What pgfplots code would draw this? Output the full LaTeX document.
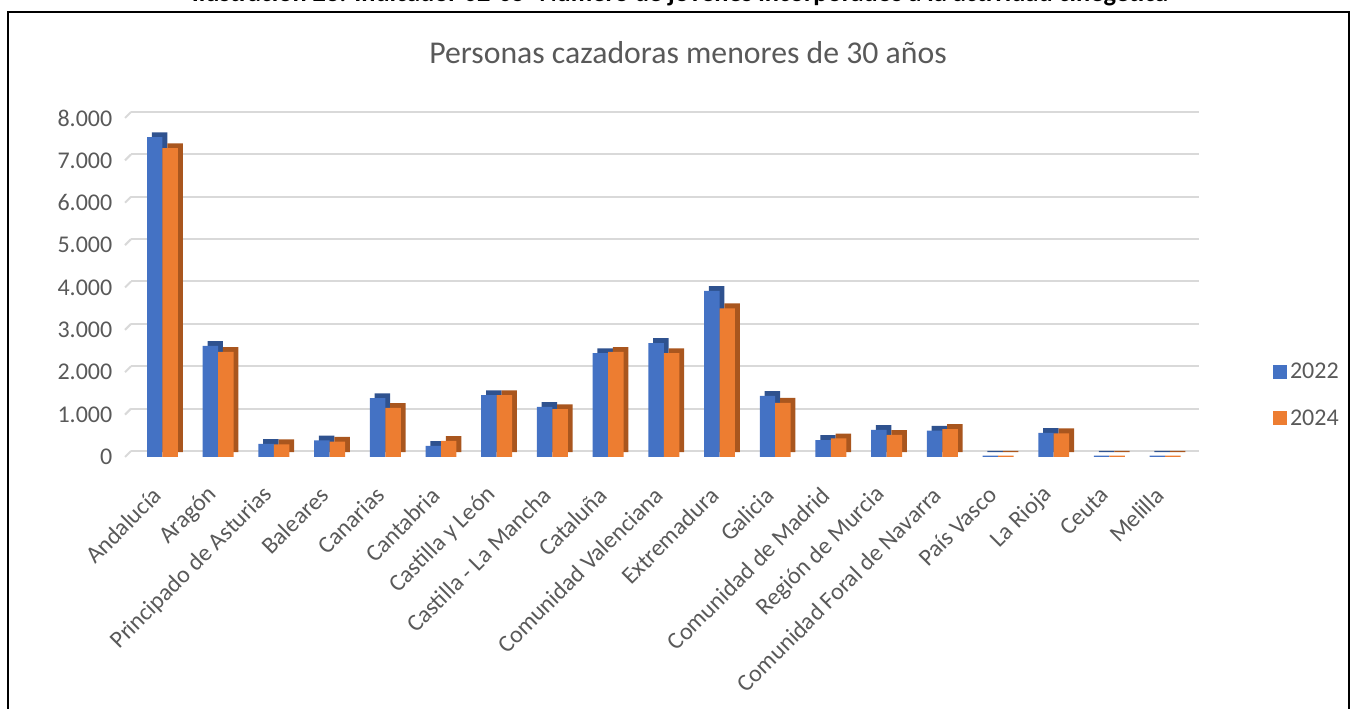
\documentclass[border=0pt]{standalone}
\usepackage{pgfplots}
\pgfplotsset{compat=1.18}
\usepackage{pgfplotstable}
\usepackage{fontspec}
\setmainfont{Carlito}
\definecolor{cblue}{HTML}{4472C4}
\definecolor{corange}{HTML}{ED7D31}
\definecolor{cbluedk}{HTML}{2F528F}
\definecolor{corangedk}{HTML}{A9561E}
\definecolor{txt}{HTML}{595959}
\definecolor{gridc}{HTML}{D9D9D9}

\pgfplotstableread{
x  a     b
0  7550  7290
1  2620  2480
2  310   300
3  390   360
4  1390  1160
5  260   380
6  1460  1460
7  1180  1130
8  2450  2480
9  2690  2450
10 3920  3510
11 1440  1280
12 400   440
13 640   520
14 620   660
15 30    30
16 570   560
17 30    30
18 30    30
}\datatable

\begin{document}
\begin{tikzpicture}
\useasboundingbox (0,0) rectangle (1017.75pt,531.75pt);
% cut-off caption above the chart frame
\node[anchor=base, inner sep=0pt] at (510pt,530.5pt) {\resizebox{732pt}{!}{\bfseries Ilustración 23. Indicador 02-05 -Número de jóvenes incorporados a la actividad cinegética}};
% frame
\draw[line width=1.5pt, black] (6pt,-10pt) -- (6pt,522.75pt) -- (1011.75pt,522.75pt) -- (1011.75pt,-10pt);
% chart title
\node[anchor=base, text=txt, font=\fontsize{23.8}{28}\selectfont, inner sep=0pt] at (516pt,484pt) {Personas cazadoras menores de 30 años};
\begin{axis}[
  at={(93.75pt,189pt)}, anchor=south west,
  scale only axis, width=801pt, height=254.25pt,
  xmin=-0.673, xmax=18.5, ymin=0, ymax=8000,
  clip=false,
  axis line style={draw=none},
  major tick length=0pt,
  ymajorgrids,
  major grid style={line width=1.5pt, gridc, xshift=4.5pt, yshift=4.5pt},
  ytick={0,1000,...,8000},
  /pgf/number format/.cd, 1000 sep={.}, assume math mode=true,
  /pgfplots/.cd,
  yticklabel style={font=\fontsize{18}{21}\selectfont, text=txt, xshift=-6pt},
  xtick={0,...,18},
  xticklabels={Andalucía, Aragón, Principado de Asturias, Baleares, Canarias, Cantabria, Castilla y León, Castilla - La Mancha, Cataluña, Comunidad Valenciana, Extremadura, Galicia, Comunidad de Madrid, Región de Murcia, Comunidad Foral de Navarra, País Vasco, La Rioja, Ceuta, Melilla},
  xticklabel style={font=\fontsize{18}{21}\selectfont, text=txt, rotate=45, anchor=east, yshift=-15.4pt, xshift=-17.4pt},
  ybar, bar width=11.6pt,
  legend style={at={(1.075,0.183)}, anchor=west, draw=none, fill=none, font=\fontsize{18}{21}\selectfont, text=txt, row sep=18pt, inner sep=0pt},
  legend cell align=left,
  legend image code/.code={\fill[#1, draw=none] (0pt,-5.25pt) rectangle (10.5pt,5.25pt);},
]
\pgfplotsinvokeforeach{0,1000,...,8000}{
  \draw[gridc, line width=1.5pt] (axis cs:-0.673,#1) -- ++(4.5pt,4.5pt);
}
\addplot[fill=cbluedk, draw=none, bar shift=-5.8pt, xshift=3.6pt, yshift=3.6pt, forget plot] table[x=x, y=a] {\datatable};
\addplot[fill=cblue, draw=none, bar shift=-5.8pt] table[x=x, y=a] {\datatable};
\addplot[fill=corangedk, draw=none, bar shift=5.8pt, xshift=3.6pt, yshift=3.6pt, forget plot] table[x=x, y=b] {\datatable};
\addplot[fill=corange, draw=none, bar shift=5.8pt] table[x=x, y=b] {\datatable};
\legend{2022, 2024}
\end{axis}
\end{tikzpicture}
\end{document}
